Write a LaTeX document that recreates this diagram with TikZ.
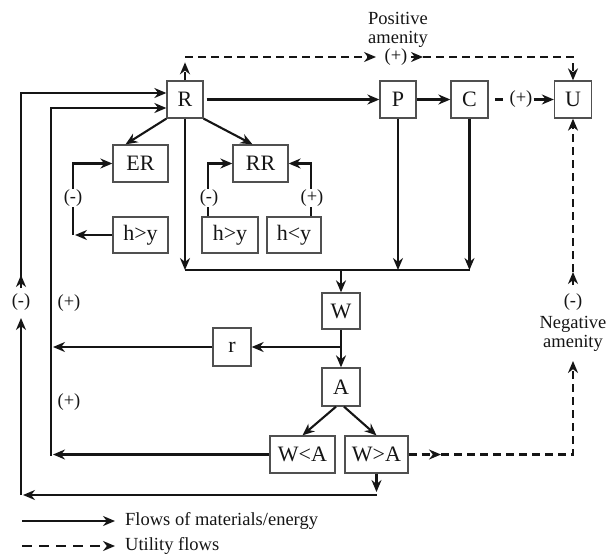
\documentclass[tikz,border=0pt]{standalone}
\usepackage{fontspec}
\setmainfont{Liberation Serif}
\usetikzlibrary{arrows.meta,calc}
\definecolor{linecol}{HTML}{151515}
\definecolor{boxgray}{HTML}{505050}
\begin{document}
\begin{tikzpicture}[x=1pt,y=-1pt,
 box/.style={draw=boxgray,line width=1.3pt,inner sep=0pt,text=linecol,font=\fontsize{22}{24}\selectfont,minimum height=37pt},
 flow/.style={draw=linecol,line width=2.1pt},
 arr/.style={-{Stealth[length=12pt,width=10pt]}},
 util/.style={flow,dash pattern=on 8pt off 5pt},
 lbl/.style={font=\fontsize{18.5}{19}\selectfont,inner sep=1pt,text=linecol},
]
\useasboundingbox (0,0) rectangle (606,555);
% boxes
\node[box,minimum width=36pt] (R) at (185,99.5) {R};
\node[box,minimum width=36pt] (P) at (398,99.5) {P};
\node[box,minimum width=37pt] (C) at (469.5,99.5) {C};
\node[box,minimum width=37pt] (U) at (573,99.5) {U};
\node[box,minimum width=55pt] (ER) at (140.5,163.5) {ER};
\node[box,minimum width=55pt] (RR) at (260.5,163.5) {RR};
\node[box,minimum width=55pt,minimum height=36pt] (hy1) at (140.5,235) {h>y};
\node[box,minimum width=56pt,minimum height=36pt] (hy2) at (230,235) {h>y};
\node[box,minimum width=54pt,minimum height=36pt] (hly) at (294,235) {h<y};
\node[box,minimum width=38pt,minimum height=36pt] (W) at (341,311) {W};
\node[box,minimum width=38pt,minimum height=38pt] (r) at (232,347) {r};
\node[box,minimum width=38pt,minimum height=38pt] (A) at (341,387) {A};
\node[box,minimum width=65pt] (WlA) at (302.5,454.5) {W<A};
\node[box,minimum width=63pt] (WgA) at (376.5,454.5) {W>A};
% coordinates
\coordinate (Jl) at (185,270);
\coordinate (Jr) at (470,270);
\coordinate (Jw) at (341,270);
\coordinate (Lt) at (21,93);
\coordinate (Lb) at (21,495);
\coordinate (Lm1) at (21,318);
\coordinate (Lm2) at (21,288);
\coordinate (Lm3) at (21,275);
\coordinate (L2t) at (51,108);
\coordinate (L2b) at (51,456);
\coordinate (E1) at (73,235);
\coordinate (E2) at (73,163.5);
\coordinate (H2) at ($(hy2.north west)+(7,0)$);
\coordinate (H3) at ($(hly.north west)+(45,0)$);
\coordinate (T1) at (185,57);
\coordinate (T2) at (376,57);
\coordinate (T3a) at (411,57);
\coordinate (T3) at (423,57);
\coordinate (T4) at (573,57);
\coordinate (G1) at (441,454.5);
\coordinate (G2) at (573,454.5);
\coordinate (G3) at (573,361);
\coordinate (G4a) at (573,285);
\coordinate (G4) at (573,272);
\coordinate (CU1) at (495,99.5);
\coordinate (CU2) at (503,99.5);
% main row
\draw[flow,arr] ($(R.east)+(3,0)$) -- (P.west);
\draw[flow,arr] (P) -- (C);
\draw[flow] (CU1) -- (CU2);
\node[lbl] (pc) at (521,99.5) {(+)};
\draw[flow,arr] (pc.east) -- (U.west);
% R branches
\draw[flow,arr] (R.south west) -- ($(ER.north)+(-15,0)$);
\draw[flow,arr] (R.south east) -- ($(RR.north)+(-8,0)$);
\draw[flow,arr] (R.south) -- (Jl);
\draw[flow,arr] (P.south) -- (P.south |- Jl);
\draw[flow,arr] (C.south) -- (C.south |- Jl);
\draw[flow] (Jl) -- (Jr);
\draw[flow,arr] (Jw) -- (W.north);
% ER loop
\draw[flow,arr] (hy1.west) -- ($(E1)+(2,0)$);
\draw[flow,arr] (E1) -- (E2) -- (ER.west);
\node[lbl,fill=white] at (73,198) {(-)};
% RR loops
\draw[flow,arr] (H2) -- (H2 |- RR.west) -- (RR.west);
\draw[flow,arr] (H3) -- (H3 |- RR.east) -- (RR.east);
\node[lbl,fill=white] at (209,198) {(-)};
\node[lbl,fill=white] at (312,198) {(+)};
% W, r, A
\draw[flow,arr] (W) -- (A);
\draw[flow,arr] (W.south |- r.east) -- (r.east);
\draw[flow,arr] (r.west) -- ($(r.west -| L2t)+(2,0)$);
\draw[flow,arr] ($(A.south)+(-5,0)$) -- (WlA.north);
\draw[flow,arr] ($(A.south)+(3,0)$) -- (WgA.north);
\draw[flow,arr] (WlA.west) -- ($(WlA.west -| L2t)+(2,0)$);
\draw[flow,arr] (L2b) -- (L2t) -- (R.west |- L2t);
\node[lbl] at (69,303) {(+)};
\node[lbl] at (69,402) {(+)};
% bottom and outer loop
\draw[flow,arr] (WgA.south) -- ($(WgA.south |- Lb)+(0,-3)$);
\draw[flow,arr] (WgA.south |- Lb) -- ($(Lb)+(2,0)$);
\draw[flow,arr] (Lb) -- (Lm1);
\node[lbl] at (21,302) {(-)};
\draw[flow,arr] (Lm2) -- (Lm3);
\draw[flow,arr] ($(Lm3)+(0,2)$) -- (Lt) -- (R.west |- Lt);
% positive amenity
\draw[util,arr] (R.north) -- ++(0,-18);
\draw[util,arr] (T1) -- (T2);
\node[lbl] at (396,57) {(+)};
\draw[flow,arr] (T3a) -- (T3);
\draw[util,arr] (T3) -- (T4) -- (U.north);
\node[lbl,align=center] at (398,30) {Positive\\amenity};
% negative amenity
\draw[util,arr] (WgA.east) -- (G1);
\draw[util,arr] (G1) -- (G2) -- (G3);
\node[lbl,align=center] at (573,334) {Negative\\amenity};
\node[lbl] at (573,302) {(-)};
\draw[flow,arr] (G4a) -- (G4);
\draw[util,arr] (G4) -- (U.south);
% legend
\coordinate (K1) at (22,521);
\coordinate (K2) at (115,521);
\coordinate (K3) at (22,546);
\coordinate (K4) at (115,546);
\draw[flow,arr] (K1) -- (K2);
\node[lbl,anchor=west] at (124,521) {Flows of materials/energy};
\draw[flow,arr,dash pattern=on 10pt off 7pt] (K3) -- (K4);
\node[lbl,anchor=west] at (124,546) {Utility flows};
\end{tikzpicture}
\end{document}
